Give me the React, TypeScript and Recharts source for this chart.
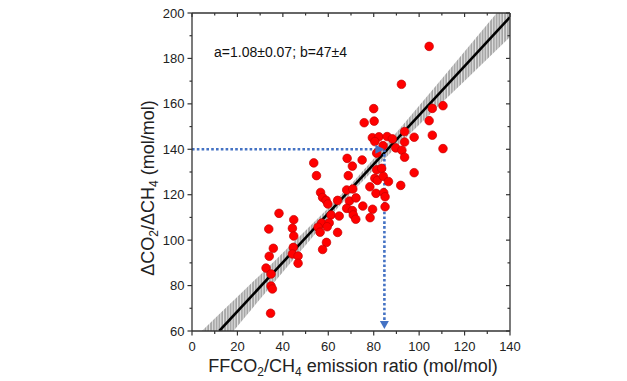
import React from 'react';
import { ComposedChart, XAxis, YAxis, Scatter, Line, Area } from 'recharts';

const xTicks = [0, 10, 20, 30, 40, 50, 60, 70, 80, 90, 100, 110, 120, 130, 140];
const yTicks = [60, 70, 80, 90, 100, 110, 120, 130, 140, 150, 160, 170, 180, 190, 200];

const pointX = [
  33.8, 38.3, 44.8, 44.2, 44.8, 35.8, 44.6, 34.0, 44.2, 46.7, 46.7, 32.6, 34.8, 34.8, 35.4, 34.6,
  53.6, 54.8, 56.6, 57.5, 59.0, 59.8, 64.1, 61.2, 64.8, 57.1, 60.4, 55.5, 56.4, 59.5, 64.1, 59.2, 57.5,
  68.3, 70.6, 68.8, 68.1, 70.8, 69.3, 72.2, 68.1, 70.6, 71.0, 72.1, 75.2, 74.9,
  75.8, 80.2, 80.0, 79.4, 82.3, 85.9, 88.2, 80.5, 84.1, 81.3, 89.7, 81.3, 83.5, 80.5, 81.6, 84.2, 86.5,
  78.3, 81.0, 84.4, 85.0, 85.0, 79.5, 78.4,
  92.2, 104.4, 105.8, 110.5, 104.4, 105.8, 110.5, 93.6, 97.8, 93.6, 92.4, 93.6, 97.8, 91.9,
];
const pointY = [
  104.9, 111.8, 109.0, 105.2, 101.8, 96.4, 96.8, 92.9, 93.9, 93.0, 89.8, 87.7, 85.1, 79.8, 78.5, 67.8,
  134.0, 128.4, 121.0, 118.8, 117.5, 115.9, 117.5, 111.1, 110.6, 107.5, 107.6, 105.7, 103.5, 105.9, 103.4, 99.0, 95.9,
  136.0, 132.6, 128.4, 122.1, 122.5, 117.2, 118.6, 114.0, 113.0, 111.1, 109.2, 115.0, 135.3,
  151.7, 152.4, 157.9, 145.1, 145.5, 145.6, 144.6, 143.4, 141.6, 138.3, 140.6, 131.0, 131.6, 127.2, 126.3, 128.1, 125.8,
  123.5, 120.6, 120.9, 119.1, 114.7, 113.6, 109.9,
  168.6, 185.3, 158.0, 159.2, 152.6, 146.2, 140.3, 147.8, 145.3, 143.2, 139.6, 136.5, 129.7, 124.1,
];

const bandX = [0, 10, 20, 30, 40, 50, 60, 70, 80, 90, 100, 110, 120, 130, 140];
const bandLow = [38.2, 50.2, 62.1, 74.1, 86.0, 97.8, 109.5, 120.6, 131.0, 141.0, 150.8, 160.5, 170.1, 179.8, 189.4];
const bandHigh = [55.8, 65.5, 75.1, 84.7, 94.4, 104.2, 114.2, 124.6, 135.8, 147.4, 159.2, 171.1, 183.1, 195.0, 207.0];

const fitX = [12.0, 140];
const fitY = [60, 198.2];

const guideHX = [0, 84.7];
const guideHY = [140, 140];
const guideVX = [84.7, 84.7];
const guideVY = [140, 62];
const arrowRightPt = { x: 84.7, y: 140 };
const arrowDownPt = { x: 84.7, y: 60.9 };

const points = pointX.map((x, i) => ({ x, y: pointY[i] }));
const band = bandX.map((x, i) => ({ x, range: [bandLow[i], bandHigh[i]] }));
const fit = fitX.map((x, i) => ({ x, y: fitY[i] }));
const guideH = guideHX.map((x, i) => ({ x, y: guideHY[i] }));
const guideV = guideVX.map((x, i) => ({ x, y: guideVY[i] }));

const FONT = 'Liberation Sans, Arial, sans-serif';
const AXIS = '#333333';
const BLUE = '#4472C4';

const LeftTick = (p: any) => {
  const v = p.payload.value;
  const major = v % 20 === 0;
  return (
    <g>
      <line x1={p.x - (major ? 4.5 : 2.5)} x2={p.x} y1={p.y} y2={p.y} stroke={AXIS} strokeWidth={1.2} />
      {major && (
        <text x={p.x - 7.5} y={p.y + 4.5} textAnchor="end" fontSize={13} fontFamily={FONT} fill="#222">
          {v}
        </text>
      )}
    </g>
  );
};

const BottomTick = (p: any) => {
  const v = p.payload.value;
  const major = v % 20 === 0;
  return (
    <g>
      <line x1={p.x} x2={p.x} y1={p.y} y2={p.y + (major ? 4.5 : 3)} stroke={AXIS} strokeWidth={1.2} />
      {major && (
        <text x={p.x} y={p.y + 19.5} textAnchor="middle" fontSize={13} fontFamily={FONT} fill="#222">
          {v}
        </text>
      )}
    </g>
  );
};

const TopTick = (p: any) => {
  const v = p.payload.value;
  const major = v % 20 === 0;
  return <line x1={p.x} x2={p.x} y1={p.y} y2={p.y + (major ? 4 : 2.5)} stroke={AXIS} strokeWidth={1.2} />;
};

const RightTick = (p: any) => {
  const v = p.payload.value;
  const major = v % 20 === 0;
  return <line x1={p.x - (major ? 4 : 2.5)} x2={p.x} y1={p.y} y2={p.y} stroke={AXIS} strokeWidth={1.2} />;
};

const Dot = (p: any) => (
  <circle cx={p.cx} cy={p.cy} r={4.3} fill="#ff0000" stroke="#c40000" strokeWidth={0.7} />
);

const ArrowRight = (p: any) => (
  <polygon
    points={`${p.cx - 9},${p.cy - 4.5} ${p.cx},${p.cy} ${p.cx - 9},${p.cy + 4.5}`}
    fill={BLUE}
  />
);

const ArrowDown = (p: any) => (
  <polygon
    points={`${p.cx - 4.5},${p.cy - 8} ${p.cx + 4.5},${p.cy - 8} ${p.cx},${p.cy}`}
    fill={BLUE}
  />
);

export default function App() {
  return (
    <div style={{ position: 'absolute', left: 0, top: 0, width: 627, height: 381, background: '#fff' }}>
      <ComposedChart
        width={627}
        height={381}
        margin={{ top: 8, right: 107, bottom: 20, left: 152 }}
      >
        <defs>
          <pattern id="hatch" width="2.8" height="10" patternUnits="userSpaceOnUse">
            <rect width="2.8" height="10" fill="#e4e4e4" />
            <line x1="1" y1="0" x2="1" y2="10" stroke="#8e8e8e" strokeWidth="1.3" />
          </pattern>
        </defs>
        <XAxis
          type="number"
          dataKey="x"
          domain={[0, 140]}
          ticks={xTicks}
          interval={0}
          allowDataOverflow
          height={30}
          tickSize={0}
          tickMargin={0}
          tickLine={false}
          tick={BottomTick}
          axisLine={{ stroke: AXIS, strokeWidth: 1.3 }}
        />
        <XAxis
          xAxisId="top"
          orientation="top"
          type="number"
          dataKey="x"
          domain={[0, 140]}
          ticks={xTicks}
          interval={0}
          allowDataOverflow
          height={5}
          tickSize={0}
          tickMargin={0}
          tickLine={false}
          tick={TopTick}
          axisLine={{ stroke: AXIS, strokeWidth: 1.3 }}
        />
        <YAxis
          type="number"
          dataKey="y"
          domain={[60, 200]}
          ticks={yTicks}
          interval={0}
          allowDataOverflow
          width={40}
          tickSize={0}
          tickMargin={0}
          tickLine={false}
          tick={LeftTick}
          axisLine={{ stroke: AXIS, strokeWidth: 1.3 }}
        />
        <YAxis
          yAxisId="right"
          orientation="right"
          type="number"
          dataKey="y"
          domain={[60, 200]}
          ticks={yTicks}
          interval={0}
          allowDataOverflow
          width={10}
          tickSize={0}
          tickMargin={0}
          tickLine={false}
          tick={RightTick}
          axisLine={{ stroke: AXIS, strokeWidth: 1.3 }}
        />
        <Area
          data={band}
          dataKey="range"
          type="linear"
          fill="url(#hatch)"
          fillOpacity={1}
          stroke="none"
          isAnimationActive={false}
          dot={false}
          activeDot={false}
        />
        <Line
          data={fit}
          dataKey="y"
          type="linear"
          stroke="#000"
          strokeWidth={2.6}
          dot={false}
          activeDot={false}
          isAnimationActive={false}
        />
        <Scatter data={points} dataKey="y" shape={Dot} isAnimationActive={false} />
        <Line
          data={guideH}
          dataKey="y"
          type="linear"
          stroke={BLUE}
          strokeWidth={2.6}
          strokeDasharray="2.6 2.2"
          dot={false}
          activeDot={false}
          isAnimationActive={false}
        />
        <Line
          data={guideV}
          dataKey="y"
          type="linear"
          stroke={BLUE}
          strokeWidth={2.6}
          strokeDasharray="2.6 2.2"
          dot={false}
          activeDot={false}
          isAnimationActive={false}
        />
        <Scatter data={[arrowRightPt]} dataKey="y" shape={ArrowRight} isAnimationActive={false} />
        <Scatter data={[arrowDownPt]} dataKey="y" shape={ArrowDown} isAnimationActive={false} />
      </ComposedChart>
      <svg
        width={627}
        height={381}
        style={{ position: 'absolute', left: 0, top: 0, pointerEvents: 'none' }}
      >
        <text x={214} y={57} fontSize={14} fontFamily={FONT} fill="#111">
          a=1.08±0.07; b=47±4
        </text>
        <text x={353} y={372} textAnchor="middle" fontSize={18} fontFamily={FONT} fill="#222">
          FFCO<tspan fontSize={12} dy={4}>2</tspan>
          <tspan dy={-4}>/CH</tspan>
          <tspan fontSize={12} dy={4}>4</tspan>
          <tspan dy={-4}> emission ratio (mol/mol)</tspan>
        </text>
        <text
          transform="translate(154,188) rotate(-90)"
          textAnchor="middle"
          fontSize={18}
          fontFamily={FONT}
          fill="#222"
        >
          ΔCO<tspan fontSize={12} dy={4}>2</tspan>
          <tspan dy={-4}>/ΔCH</tspan>
          <tspan fontSize={12} dy={4}>4</tspan>
          <tspan dy={-4}> (mol/mol)</tspan>
        </text>
      </svg>
    </div>
  );
}
